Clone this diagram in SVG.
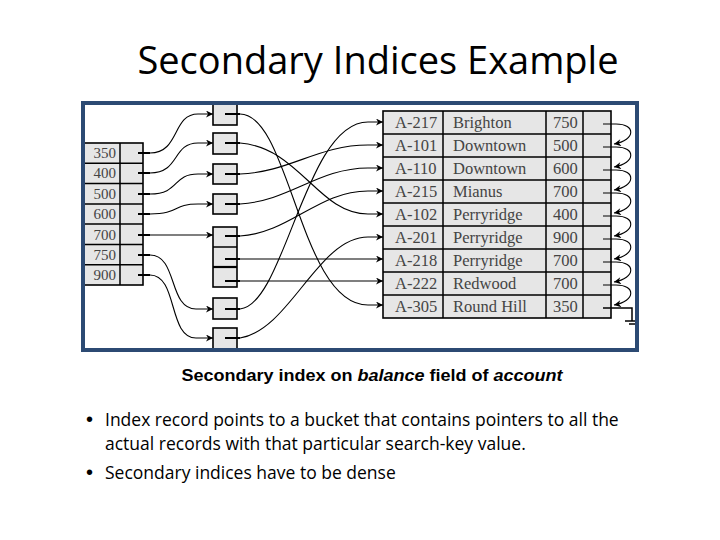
<svg xmlns="http://www.w3.org/2000/svg" width="720" height="540" viewBox="0 0 720 540">
<style>
.title{font-family:"Open Sans","Liberation Sans",sans-serif;font-size:38px;fill:#000}
.cap{font-family:"Liberation Sans",Arial,sans-serif;font-size:16px;font-weight:bold;fill:#000}
.bul{font-family:"Open Sans","Liberation Sans",sans-serif;font-size:17.5px;fill:#000}
.dot{font-family:"Liberation Sans",Arial,sans-serif;font-size:20px;fill:#000}
.cell{fill:#e6e6e6;stroke:#000;stroke-width:1.6}
.grid{stroke:#000;stroke-width:1.5;fill:none}
.tt{font-family:"Liberation Serif","Times New Roman",serif;font-size:16.5px;fill:#444}
.it{font-family:"Liberation Serif","Times New Roman",serif;font-size:15px;fill:#444}
.stub{stroke:#000;stroke-width:2;fill:none}
.con{stroke:#000;stroke-width:1.1;fill:none;marker-end:url(#ah)}
.frame{fill:none;stroke:#2c4a73;stroke-width:4}
</style>
<defs>
<marker id="ah" viewBox="0 0 10 10" refX="10" refY="5" markerWidth="10" markerHeight="7" markerUnits="userSpaceOnUse" orient="auto">
<path d="M0,0 L10,5 L0,10 L3,5 z" fill="#000"/>
</marker>
</defs>
<rect x="0" y="0" width="720" height="540" fill="#fff"/>
<text class="title" x="378" y="74" text-anchor="middle">Secondary Indices Example</text>

<g id="index">
<rect class="cell" x="83" y="143" width="60" height="142"/>
<path class="grid" d="M120,143 V285 M83,163.3 H143 M83,183.6 H143 M83,203.9 H143 M83,224.1 H143 M83,244.4 H143 M83,264.7 H143"/>
<g class="it" text-anchor="end">
<text x="116" y="158">350</text>
<text x="116" y="178">400</text>
<text x="116" y="199">500</text>
<text x="116" y="219">600</text>
<text x="116" y="240">700</text>
<text x="116" y="260">750</text>
<text x="116" y="280">900</text>
</g>
</g>

<g id="bucket1"><rect class="cell" x="213" y="104" width="24" height="21"/></g>
<g id="bucket2"><rect class="cell" x="213" y="133" width="24" height="21"/></g>
<g id="bucket3"><rect class="cell" x="213" y="164" width="24" height="20"/></g>
<g id="bucket4"><rect class="cell" x="213" y="194" width="24" height="20"/></g>
<g id="bucket5"><rect class="cell" x="213" y="227" width="24" height="60"/><path class="grid" d="M213,247 H237"/><path d="M213,267 H237" stroke="#000" stroke-width="2.2"/></g>
<g id="bucket6"><rect class="cell" x="213" y="298" width="24" height="21"/></g>
<g id="bucket7"><rect class="cell" x="213" y="328" width="24" height="21"/></g>

<g id="records">
<rect class="cell" x="383" y="111" width="228" height="207" stroke-width="2"/>
<path class="grid" d="M443,111 V318 M546,111 V318 M583,111 V318 M383,134 H611 M383,157 H611 M383,180 H611 M383,203 H611 M383,226 H611 M383,249 H611 M383,272 H611 M383,295 H611"/>
<g class="tt">
<text x="395" y="128">A-217</text><text x="453" y="128">Brighton</text><text x="553" y="128">750</text>
<text x="395" y="151">A-101</text><text x="453" y="151">Downtown</text><text x="553" y="151">500</text>
<text x="395" y="174">A-110</text><text x="453" y="174">Downtown</text><text x="553" y="174">600</text>
<text x="395" y="197">A-215</text><text x="453" y="197">Mianus</text><text x="553" y="197">700</text>
<text x="395" y="220">A-102</text><text x="453" y="220">Perryridge</text><text x="553" y="220">400</text>
<text x="395" y="243">A-201</text><text x="453" y="243">Perryridge</text><text x="553" y="243">900</text>
<text x="395" y="266">A-218</text><text x="453" y="266">Perryridge</text><text x="553" y="266">700</text>
<text x="395" y="289">A-222</text><text x="453" y="289">Redwood</text><text x="553" y="289">700</text>
<text x="395" y="312">A-305</text><text x="453" y="312">Round Hill</text><text x="553" y="312">350</text>
</g>
</g>

<g id="connectors">
<path class="stub" d="M138,153 H150 M138,173 H150 M138,194 H150 M138,214 H150 M138,235 H150 M138,255 H150 M138,275 H150"/>
<path class="con" d="M150,153 C180,153 172,114 198,114 H213"/>
<path class="con" d="M150,173 C180,173 172,143 198,143 H213"/>
<path class="con" d="M150,194 C180,194 172,174 198,174 H213"/>
<path class="con" d="M150,214 C180,214 172,204 198,204 H213"/>
<path class="con" d="M150,235 H213"/>
<path class="con" d="M150,255 C178,255 168,309 196,309 H213"/>
<path class="con" d="M150,275 C178,275 168,338 196,338 H213"/>

<path class="stub" d="M225,114 H240 M225,143 H240 M225,174 H240 M225,204 H240 M225,236 H240 M225,259 H240 M225,281 H240 M225,309 H240 M225,338 H240"/>
<path class="con" d="M240,114 C290,114 300,305 368,305 H383"/>
<path class="con" d="M240,143 C300,148 318,214 368,214 H383"/>
<path class="con" d="M240,174 C290,172 318,145 368,145 H383"/>
<path class="con" d="M240,204 C290,201 318,168 368,168 H383"/>
<path class="con" d="M240,236 C290,233 318,191 368,191 H383"/>
<path class="con" d="M240,259 H383"/>
<path class="con" d="M240,281 H383"/>
<path class="con" d="M240,309 C285,305 305,122 368,122 H383"/>
<path class="con" d="M240,338 C290,330 318,237 368,237 H383"/>

<path class="con" d="M603,124 H616 C636,124 636,140 614,144"/>
<path class="con" d="M603,147 H616 C636,147 636,163 614,167"/>
<path class="con" d="M603,170 H616 C636,170 636,186 614,190"/>
<path class="con" d="M603,193 H616 C636,193 636,209 614,213"/>
<path class="con" d="M603,216 H616 C636,216 636,232 614,236"/>
<path class="con" d="M603,239 H616 C636,239 636,255 614,259"/>
<path class="con" d="M603,262 H616 C636,262 636,278 614,282"/>
<path class="con" d="M603,285 H616 C636,285 636,301 614,305"/>
<path d="M603,308 H632 V321 M625,321 H638 M629,324 H635" stroke="#000" stroke-width="1.5" fill="none"/>
</g>

<rect class="frame" x="83" y="103" width="554" height="247"/>

<text class="cap" x="372" y="381" text-anchor="middle" textLength="381" lengthAdjust="spacingAndGlyphs">Secondary index on <tspan font-style="italic">balance</tspan> field of <tspan font-style="italic">account</tspan></text>

<g class="bul">
<text class="dot" x="86" y="426">•</text>
<text x="105" y="426">Index record points to a bucket that contains pointers to all the</text>
<text x="105" y="450">actual records with that particular search-key value.</text>
<text class="dot" x="86" y="479">•</text>
<text x="105" y="479">Secondary indices have to be dense</text>
</g>
</svg>
